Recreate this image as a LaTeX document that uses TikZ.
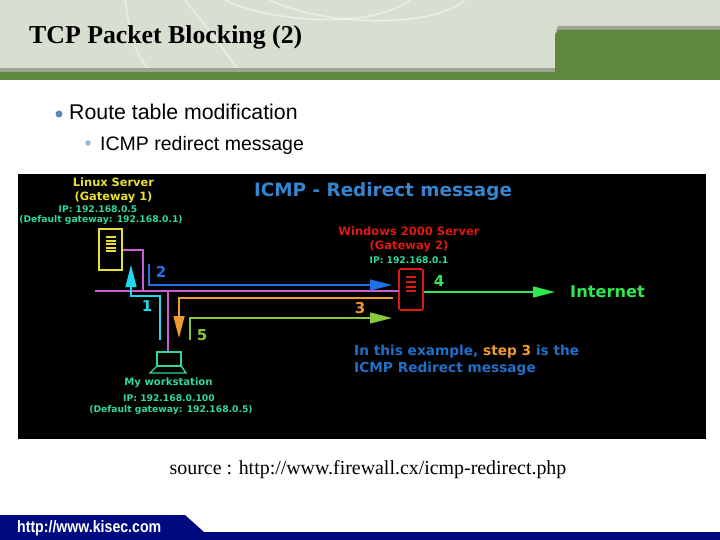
\documentclass[tikz,border=0pt]{standalone}
\usepackage{fontspec}
\setmainfont{Liberation Serif}
\newfontfamily\arialf{Liberation Sans}
\newfontfamily\dejaf{DejaVu Sans}
\usetikzlibrary{arrows.meta}
\definecolor{hdrbg}{HTML}{D9DFD0}
\definecolor{hdrgreen}{HTML}{5F873D}
\definecolor{hdrgray}{HTML}{9DA595}
\definecolor{navy}{HTML}{000A80}
\definecolor{cmagenta}{HTML}{C85FD0}
\definecolor{ccyan}{HTML}{20D8F0}
\definecolor{cblue}{HTML}{2070E8}
\definecolor{corange}{HTML}{F09A30}
\definecolor{colive}{HTML}{88C838}
\definecolor{cgreen}{HTML}{30E850}
\definecolor{cyellow}{HTML}{E8E030}
\definecolor{cteal}{HTML}{30D8A0}
\definecolor{cred}{HTML}{E01810}
\definecolor{ctext}{HTML}{2070C8}
\definecolor{ctitle}{HTML}{3585D0}
\definecolor{bul}{HTML}{5F86B8}
\definecolor{bulb}{HTML}{9FB6CC}
\tikzset{
  wire/.style={line width=1.4pt},
  arrowwire/.style={line width=1.4pt,-{Triangle[length=22pt,width=11pt]}},
  lbl/.style={inner sep=0pt,align=center},
  numlbl/.style={inner sep=0pt,font=\dejaf\bfseries\fontsize{15}{15}\selectfont},
  smalllbl/.style={inner sep=0pt,align=center,text=cteal,font=\dejaf\bfseries\fontsize{9.2}{9.2}\selectfont},
  srv/.style={draw,line width=1.6pt,inner sep=0pt,fill=black},
  tick/.style={line width=1.3pt},
}
\begin{document}
\begin{tikzpicture}[x=1pt,y=-1pt]
\useasboundingbox (0,0) rectangle (720,540);
\fill[white] (0,0) rectangle (720,540);
% header
\fill[hdrbg] (0,0) rectangle (720,72);
\begin{scope}
\clip (0,0) rectangle (555,70);
\draw[white,opacity=.45,line width=1.5pt] (125,0) .. controls (130,35) and (135,55) .. (150,70);
\draw[white,opacity=.45,line width=1.5pt] (185,0) .. controls (205,25) and (225,50) .. (238,70);
\draw[white,opacity=.45,line width=1.5pt] (225,0) .. controls (270,22) and (370,30) .. (410,0);
\draw[white,opacity=.45,line width=1.5pt] (270,0) .. controls (320,25) and (430,30) .. (465,0);
\end{scope}
\fill[hdrgray] (0,68) rectangle (555,72);
\fill[hdrgreen] (0,72) rectangle (720,80);
\fill[hdrgray] (558,26) -- (720,26) -- (720,31) -- (556,31) -- cycle;
\fill[hdrgreen] (555,80) -- (555,34) -- (558,30) -- (720,30) -- (720,80) -- cycle;
\node[anchor=west,inner sep=0pt,font=\bfseries\fontsize{25.8}{25.8}\selectfont] (title) at (29,37) {TCP Packet Blocking (2)};
% bullets
\node[circle,fill=bul,minimum size=7pt,inner sep=0pt] (b1) at (59,114) {};
\node[anchor=west,inner sep=0pt,font=\arialf\fontsize{21.3}{21.3}\selectfont] (t1) at (69,112) {Route table modification};
\node[circle,fill=bulb,minimum size=5.5pt,inner sep=0pt] (b2) at (88,143) {};
\node[anchor=west,inner sep=0pt,font=\arialf\fontsize{19.5}{19.5}\selectfont] (t2) at (100,145) {ICMP redirect message};
% panel
\fill[black] (18,174) rectangle (706,439);
\node[lbl,text=ctitle,font=\dejaf\bfseries\fontsize{18.4}{18.4}\selectfont] (head) at (383,191) {ICMP - Redirect message};
% coordinates
\coordinate (gw1out) at (123,250);
\coordinate (gw1bend) at (143,250);
\coordinate (busl) at (95,291);
\coordinate (busdrop) at (143,291);
\coordinate (busr) at (399,291);
\coordinate (wsbus) at (168,291);
\coordinate (bluea) at (149,264);
\coordinate (blueb) at (149,285);
\coordinate (bluec) at (392,285);
\coordinate (cyana) at (160,340);
\coordinate (cyanb) at (160,296);
\coordinate (cyanc) at (131,296);
\coordinate (cyand) at (131,265);
\coordinate (orga) at (393,298);
\coordinate (orgb) at (179,298);
\coordinate (orgc) at (179,338);
\coordinate (olia) at (190,340);
\coordinate (olib) at (190,318);
\coordinate (olic) at (392,318);
\coordinate (inet) at (555,292);
% servers
\node[srv,draw=cyellow,minimum width=23pt,minimum height=41pt] (gw1) at (110.5,249.5) {};
\foreach \yy in {237,241,244,248,251} \draw[tick,cyellow] (105.5,\yy) -- (115.5,\yy);
\node[srv,draw=cred,rounded corners=1.5pt,minimum width=24pt,minimum height=41pt] (gw2) at (411,289.5) {};
\foreach \yy in {277,282,287,291} \draw[tick,cred] (406,\yy) -- (416,\yy);
% laptop
\node[draw=cteal,line width=1.4pt,inner sep=0pt,minimum width=24pt,minimum height=14pt] (ws) at (169,359) {};
\draw[cteal,line width=1.4pt] (ws.south west) -- (150,373) -- (186,373) -- (ws.south east);
% wires
\draw[wire,cmagenta] (busl) -- (busr);
\draw[wire,cmagenta] (gw1out) -- (gw1bend) -- (busdrop);
\draw[wire,cmagenta] (wsbus) -- (wsbus |- ws.north);
\draw[arrowwire,cblue] (bluea) -- (blueb) -- (bluec);
\draw[wire,ccyan,-{Triangle[length=22pt,width=11pt]}] (cyana) -- (cyanb) -- (cyanc) -- (cyand);
\draw[arrowwire,corange] (orga) -- (orgb) -- (orgc);
\draw[arrowwire,colive] (olia) -- (olib) -- (olic);
\draw[arrowwire,cgreen] (gw2.east |- inet) -- (inet);
% numbers
\node[numlbl,text=ccyan] (n1) at (147,306) {1};
\node[numlbl,text=cblue] (n2) at (161,272) {2};
\node[numlbl,text=corange] (n3) at (360,308) {3};
\node[numlbl,text=cgreen] (n4) at (439,281) {4};
\node[numlbl,text=colive] (n5) at (202,335) {5};
% labels
\node[lbl,text=cyellow,font=\dejaf\bfseries\fontsize{11.4}{14}\selectfont] (l1) at (113.5,190.5) {Linux Server\\(Gateway 1)};
\node[smalllbl] (l2) at (98,209) {IP: 192.168.0.5};
\node[smalllbl] (l3) at (101,220) {(Default gateway: 192.168.0.1)};
\node[lbl,text=cred,font=\dejaf\bfseries\fontsize{11.5}{14}\selectfont] (r1) at (409,239) {Windows 2000 Server\\(Gateway 2)};
\node[smalllbl] (r2) at (409,260) {IP: 192.168.0.1};
\node[lbl,text=cgreen,font=\dejaf\bfseries\fontsize{16.2}{16.2}\selectfont] (inetl) at (607.5,292) {Internet};
\node[lbl,text=cteal,font=\dejaf\bfseries\fontsize{10.1}{10.1}\selectfont] (w1) at (168.5,383) {My workstation};
\node[smalllbl] (w2) at (169,398) {IP: 192.168.0.100};
\node[smalllbl] (w3) at (171,410) {(Default gateway: 192.168.0.5)};
\node[anchor=west,inner sep=0pt,align=left,text=ctext,font=\dejaf\bfseries\fontsize{13.7}{17}\selectfont] (note) at (354,360.5) {In this example, \textcolor{corange}{step 3} is the\\ICMP Redirect message};
% source
\node[anchor=center,inner sep=0pt,font=\fontsize{19.9}{19.9}\selectfont] (src) at (368,470) {source : http://www.firewall.cx/icmp-redirect.php};
% footer
\fill[navy] (0,515) -- (185,515) -- (204,532) -- (720,532) -- (720,540) -- (0,540) -- cycle;
\node[anchor=west,inner sep=0pt,xscale=.857,text=white,font=\arialf\bfseries\fontsize{16.5}{16.5}\selectfont] (foot) at (17,528) {http://www.kisec.com};
\end{tikzpicture}
\end{document}
